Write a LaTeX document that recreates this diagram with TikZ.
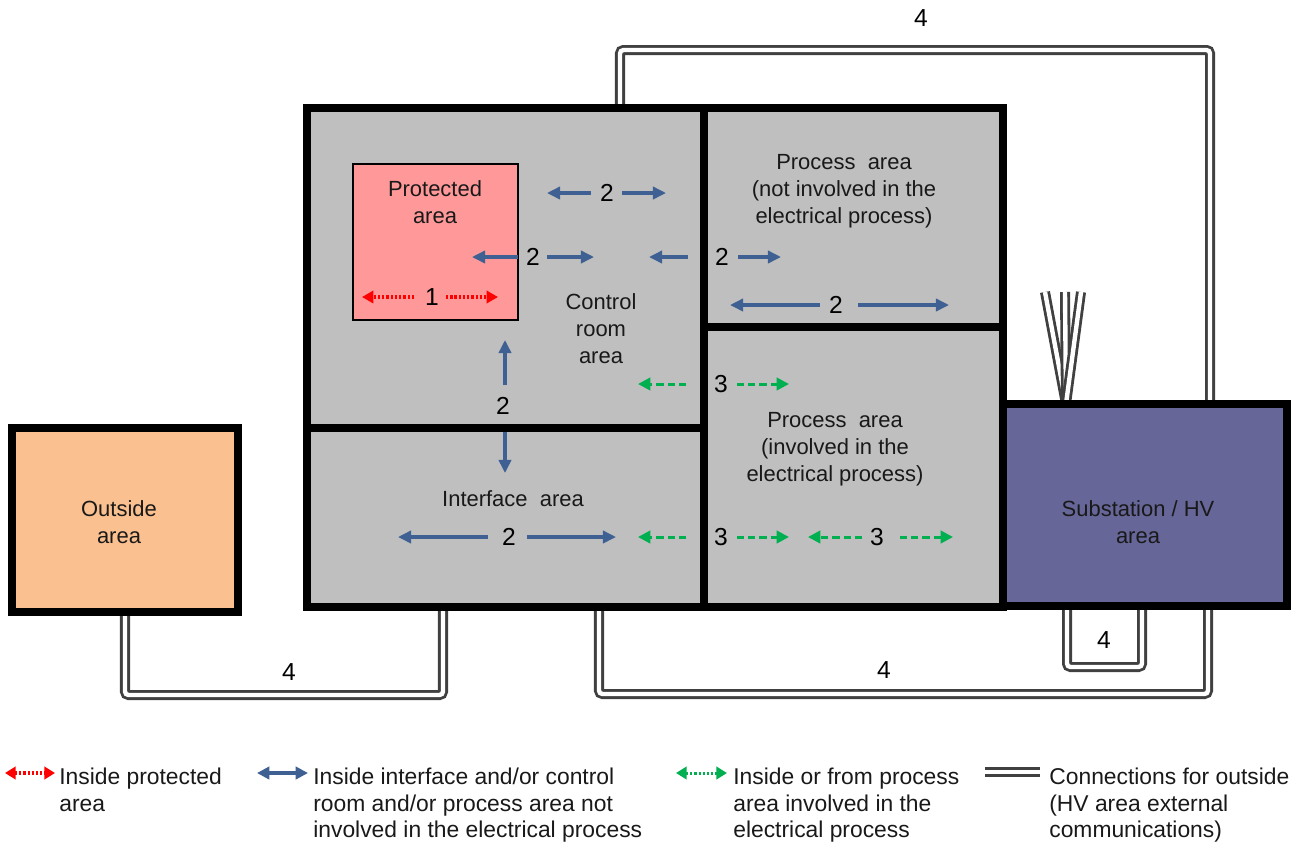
\documentclass[tikz,border=0pt]{standalone}
\usepackage{fontspec}
\setmainfont{Liberation Sans}
\usetikzlibrary{arrows.meta}
\definecolor{roomgray}{HTML}{BFBFBF}
\definecolor{protpink}{HTML}{FF9999}
\definecolor{outpeach}{HTML}{FAC090}
\definecolor{hvpurple}{HTML}{666699}
\definecolor{arrblue}{RGB}{62,96,146}
\definecolor{arrgreen}{HTML}{00B050}
\definecolor{conngray}{HTML}{404040}
\tikzset{
  area/.style={draw=black, line width=4pt},
  conn/.style={draw=conngray, line width=1.6pt, double=white, double distance=2.5pt, rounded corners=2pt},
  lbl/.style={font=\fontsize{12.5}{15.3}\selectfont, align=center, text=black!90},
  num/.style={font=\fontsize{14}{16}\selectfont, inner sep=1pt},
  legtext/.style={font=\fontsize{13}{15}\selectfont, align=left, anchor=north west, inner sep=0pt, text=black!90},
  barrow/.style={draw=arrblue, line width=1.8pt, -{Triangle[length=7.5pt,width=7pt]}},
  garrow/.style={draw=arrgreen, line width=1.7pt, dash pattern=on 4pt off 2.4pt, -{Triangle[length=7pt,width=7pt]}},
  rarrow/.style={draw=red, line width=1.9pt, dash pattern=on 1.3pt off 1.1pt, -{Triangle[length=6.5pt,width=7pt]}}
}
\begin{document}
\begin{tikzpicture}[x=0.02cm, y=-0.02cm]
  \useasboundingbox (0,0) rectangle (1299,843);

  %%% connections for outside (drawn first, areas go on top)
  \draw[conn] (620,110) -- (620,50) -- (1210,50) -- (1210,406);
  \draw[conn] (125,610) -- (125,695) -- (443,695) -- (443,605);
  \draw[conn] (599,605) -- (599,694) -- (1208,694) -- (1208,604);
  \draw[conn] (1067,604) -- (1067,667) -- (1142,667) -- (1142,604);
  \foreach \tx in {1045,1065,1081}
    \draw[conn, rounded corners=0pt] (1066,404) -- (\tx,292);

  \node[num] (four-top) at (921,18) {4};
  \node[num] (four-out) at (289,672) {4};
  \node[num] (four-bot) at (884,670) {4};
  \node[num] (four-hv) at (1104,640) {4};

  %%% areas
  \draw[area, fill=roomgray] (307,108) rectangle (1003,607);
  \draw[area] (704,108) -- (704,607);
  \draw[area] (307,428) -- (704,428);
  \draw[area] (704,327) -- (1003,327);
  \draw[black, line width=0.6pt, fill=protpink] (353,164) rectangle (518,320);
  \draw[area, fill=outpeach] (12,428) rectangle (238,612);
  \draw[area, fill=hvpurple] (1003,404) rectangle (1287,606);

  %%% area labels
  \node[lbl] (protected) at (435,202) {Protected\\area};
  \node[lbl] (control) at (601,329) {Control\\room\\area};
  \node[lbl] (procnot) at (844,191) {Process\ \ area\\(not involved in the\\electrical process)};
  \node[lbl] (procin) at (835,449) {Process\ \ area\\(involved in the\\electrical process)};
  \node[lbl] (interface) at (513,499) {Interface\ \ area};
  \node[lbl] (outside) at (119,522) {Outside\\area};
  \node[lbl] (hv) at (1138,522) {Substation / HV\\area};

  %%% blue arrows (2)
  \node[num] (b1) at (607,193) {2};
  \draw[barrow] (591,193) -- (547,193);
  \draw[barrow] (622,193) -- (666,193);
  \node[num] (b2) at (533,257) {2};
  \draw[barrow] (518,257) -- (472,257);
  \draw[barrow] (547,257) -- (594,257);
  \node[num] (b3) at (722,257) {2};
  \draw[barrow] (688,257) -- (649,257);
  \draw[barrow] (738,257) -- (781,257);
  \node[num] (b4) at (836,305) {2};
  \draw[barrow] (820,305) -- (730,305);
  \draw[barrow] (858,305) -- (949,305);
  \node[num] (b5) at (503,406) {2};
  \draw[barrow] (505,385) -- (505,340);
  \draw[barrow] (505,432) -- (505,473);
  \node[num] (b6) at (509,537) {2};
  \draw[barrow] (488,537) -- (398,537);
  \draw[barrow] (527,537) -- (616,537);

  %%% green arrows (3)
  \node[num] (g1) at (721,384) {3};
  \draw[garrow] (686,384) -- (638,384);
  \draw[garrow] (737,384) -- (789,384);
  \node[num] (g2) at (721,537) {3};
  \draw[garrow] (686,537) -- (638,537);
  \draw[garrow] (737,537) -- (789,537);
  \node[num] (g3) at (877,537) {3};
  \draw[garrow] (862,537) -- (808,537);
  \draw[garrow] (900,537) -- (953,537);

  %%% red arrows (1)
  \node[num] (r1) at (432,297) {1};
  \draw[rarrow] (414,297) -- (362,297);
  \draw[rarrow] (446,297) -- (498,297);

  %%% legend
  \draw[rarrow, {Triangle[length=6pt,width=7pt]}-{Triangle[length=6pt,width=7pt]}] (5,773) -- (55,773);
  \node[legtext] (leg-red) at (59,768) {Inside protected\\area};
  \draw[barrow, {Triangle[length=7pt,width=7pt]}-{Triangle[length=7pt,width=7pt]}] (257,773) -- (308,773);
  \node[legtext] (leg-blue) at (313,768) {Inside interface and/or control\\room and/or process area not\\involved in the electrical process};
  \draw[garrow, dash pattern=on 1.3pt off 1.1pt, {Triangle[length=6pt,width=7pt]}-{Triangle[length=6pt,width=7pt]}] (676,773) -- (727,773);
  \node[legtext] (leg-green) at (733,768) {Inside or from process\\area involved in the\\electrical process};
  \draw[conn, rounded corners=0pt] (985,772) -- (1040,772);
  \node[legtext] (leg-conn) at (1049,768) {Connections for outside\\(HV area external\\communications)};
\end{tikzpicture}
\end{document}
